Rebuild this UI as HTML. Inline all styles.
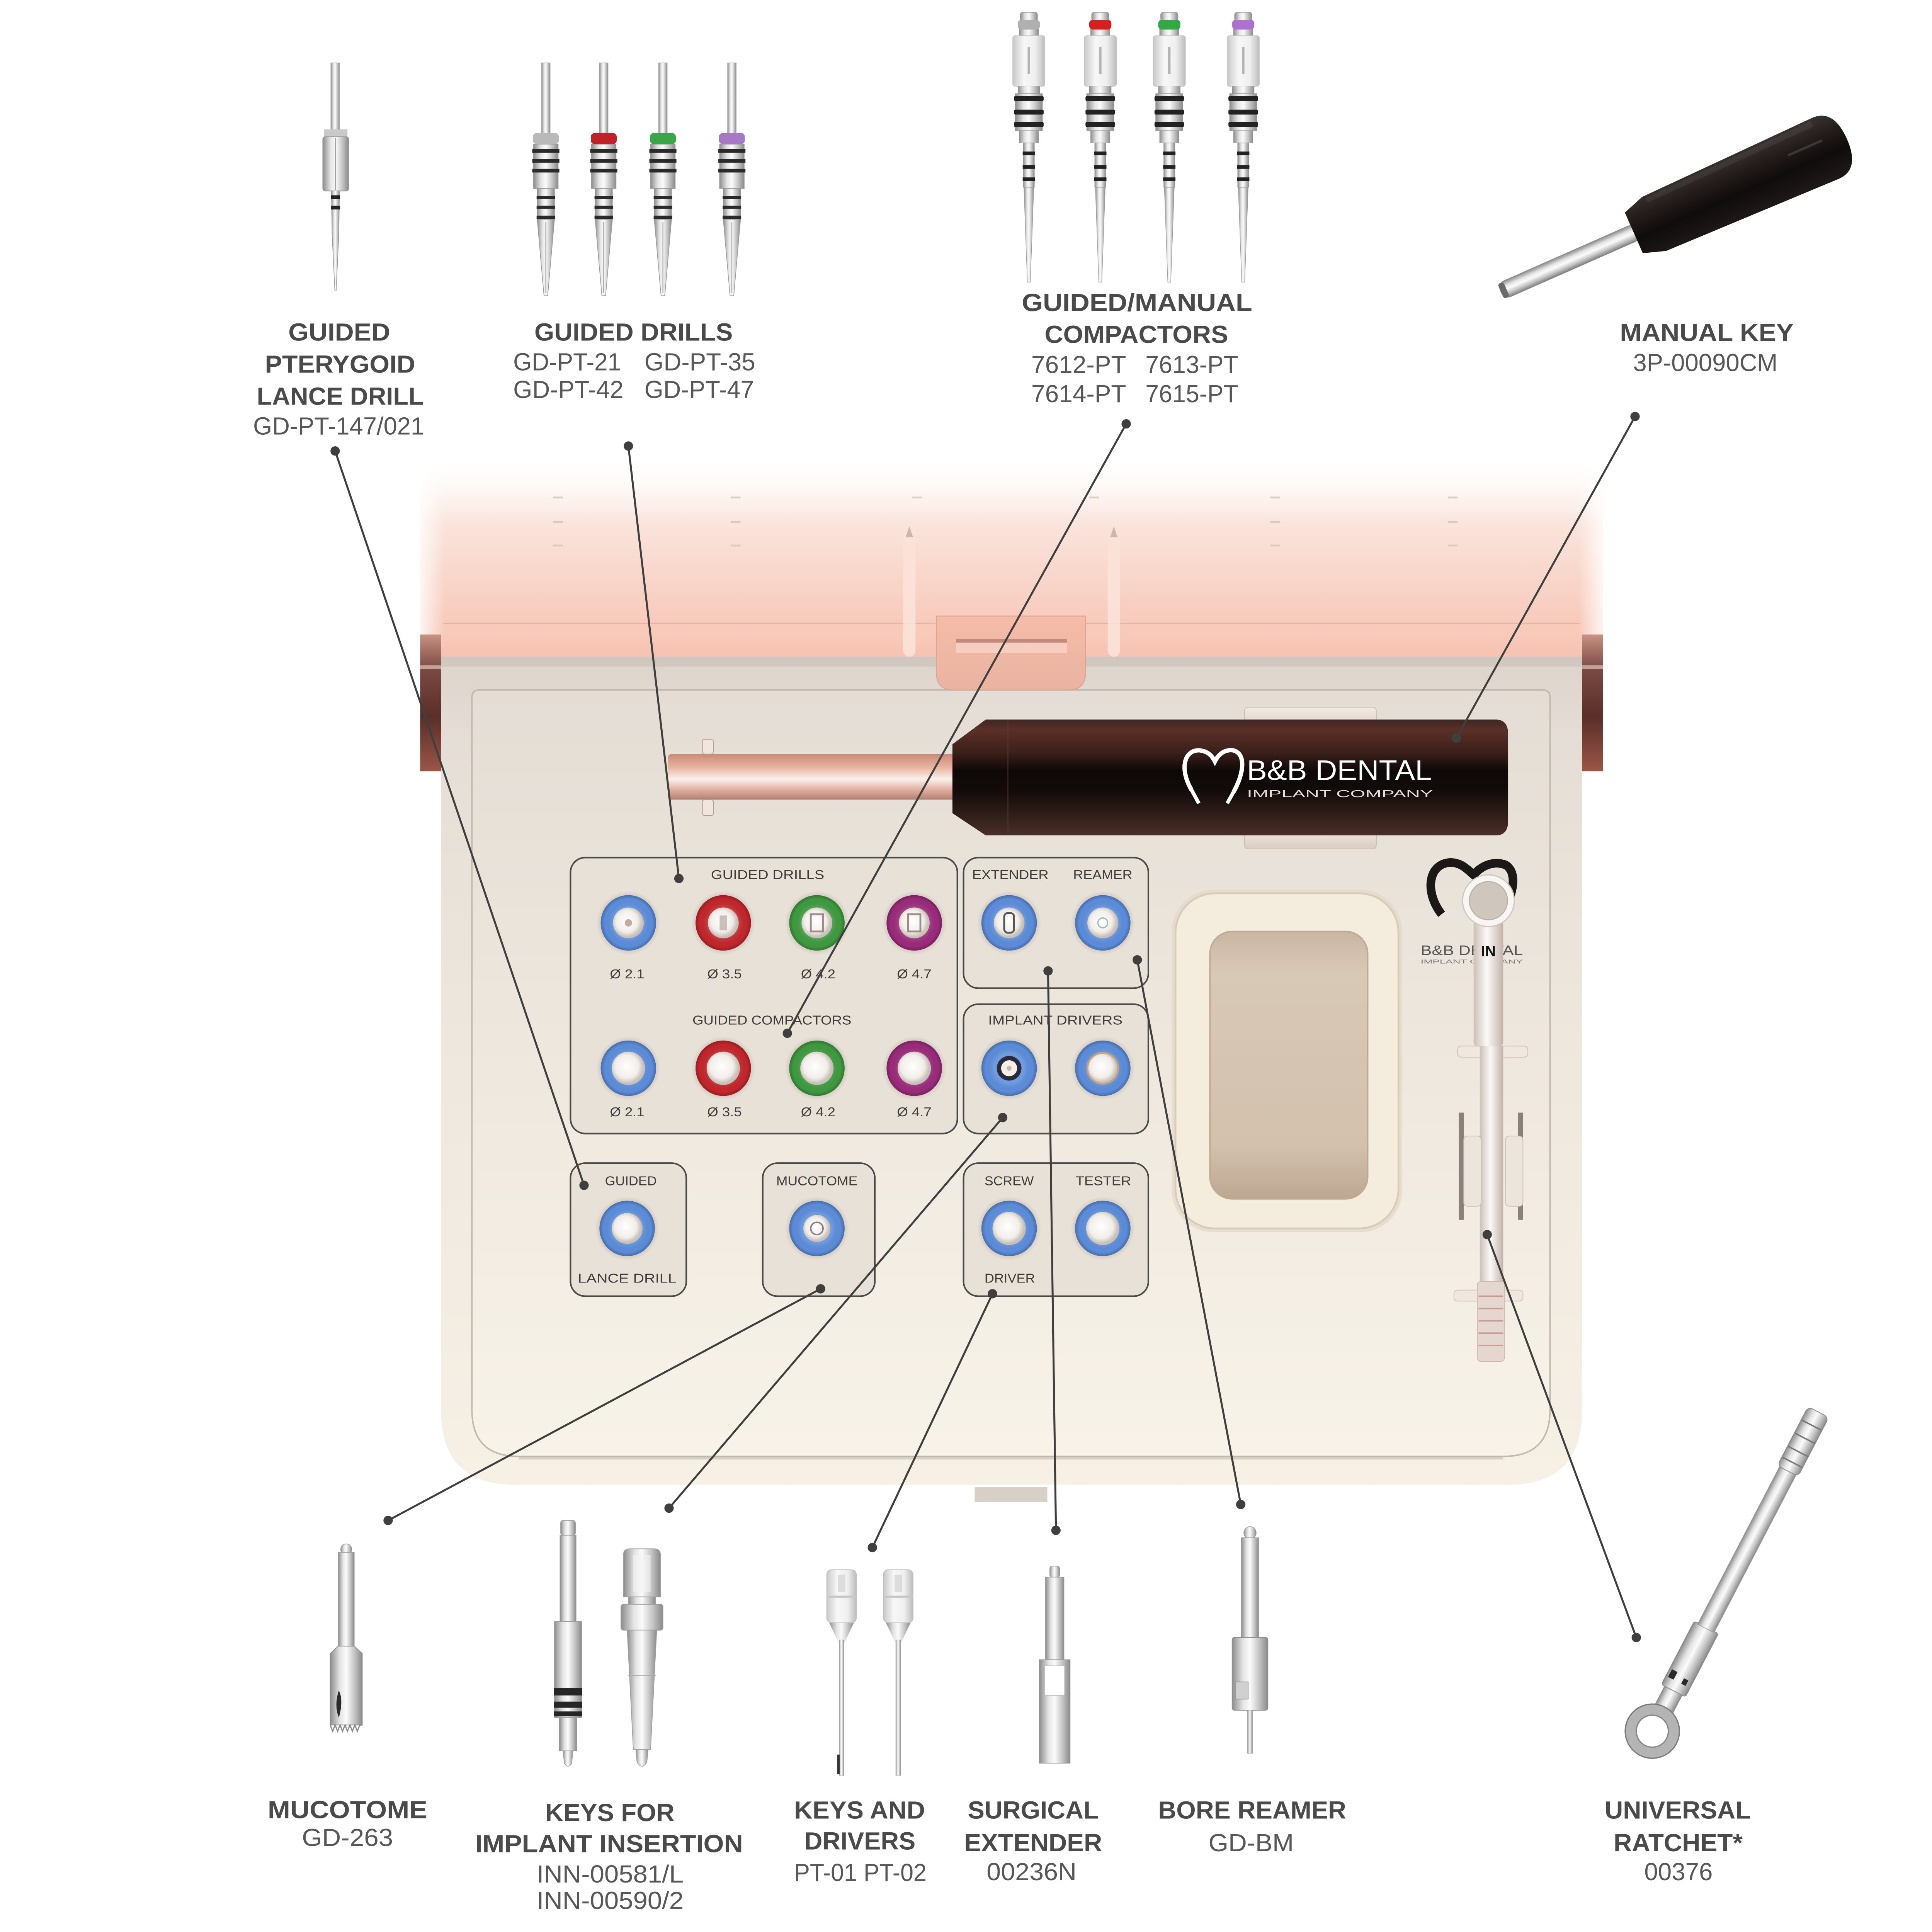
<!DOCTYPE html>
<html><head><meta charset="utf-8">
<style>
html,body{margin:0;padding:0;background:#ffffff;width:100%;height:100%;overflow:hidden;}
svg{display:block;width:100vw;height:100vh;}
text{font-family:"Liberation Sans",Arial,sans-serif;}
.b{font-weight:700;fill:#4a4a4a;font-size:20px;}
.r{font-weight:400;fill:#575757;font-size:20px;}
.s{font-weight:400;fill:#3c3c3c;font-size:10.5px;}
</style></head><body>
<svg viewBox="0 0 1568 1568" preserveAspectRatio="xMidYMid meet" xmlns="http://www.w3.org/2000/svg" xmlns:xlink="http://www.w3.org/1999/xlink">
<defs>
 <linearGradient id="sil" x1="0" y1="0" x2="1" y2="0">
  <stop offset="0" stop-color="#8c8c8c"/><stop offset="0.3" stop-color="#e4e4e4"/><stop offset="0.5" stop-color="#fbfbfb"/><stop offset="0.75" stop-color="#c6c6c6"/><stop offset="1" stop-color="#8a8a8a"/>
 </linearGradient>
 <linearGradient id="silV" x1="0" y1="0" x2="0" y2="1">
  <stop offset="0" stop-color="#8a8a8a"/><stop offset="0.3" stop-color="#e6e6e6"/><stop offset="0.5" stop-color="#fbfbfb"/><stop offset="0.75" stop-color="#c4c4c4"/><stop offset="1" stop-color="#7e7e7e"/>
 </linearGradient>
 <linearGradient id="whiteBody" x1="0" y1="0" x2="1" y2="0">
  <stop offset="0" stop-color="#c9c9c9"/><stop offset="0.35" stop-color="#f7f7f7"/><stop offset="0.7" stop-color="#efefef"/><stop offset="1" stop-color="#bdbdbd"/>
 </linearGradient>
 <linearGradient id="blackV" x1="0" y1="0" x2="0" y2="1">
  <stop offset="0" stop-color="#3a3230"/><stop offset="0.3" stop-color="#231c1b"/><stop offset="0.6" stop-color="#0f0c0c"/><stop offset="1" stop-color="#201919"/>
 </linearGradient>
 <linearGradient id="lidG" x1="0" y1="375" x2="0" y2="626" gradientUnits="userSpaceOnUse">
  <stop offset="0" stop-color="#fefaf8"/><stop offset="0.12" stop-color="#fbebe5"/><stop offset="0.3" stop-color="#f9dcd2"/><stop offset="0.55" stop-color="#f7c8b9"/><stop offset="0.75" stop-color="#f7bcaa"/><stop offset="1" stop-color="#f3ae9a"/>
 </linearGradient>
 <linearGradient id="fadeTop" x1="0" y1="0" x2="0" y2="1">
  <stop offset="0" stop-color="#ffffff" stop-opacity="1"/><stop offset="1" stop-color="#ffffff" stop-opacity="0"/>
 </linearGradient>
 <linearGradient id="fadeL" x1="0" y1="0" x2="1" y2="0">
  <stop offset="0" stop-color="#ffffff" stop-opacity="0.8"/><stop offset="1" stop-color="#ffffff" stop-opacity="0"/>
 </linearGradient>
 <linearGradient id="fadeR" x1="1" y1="0" x2="0" y2="0">
  <stop offset="0" stop-color="#ffffff" stop-opacity="0.8"/><stop offset="1" stop-color="#ffffff" stop-opacity="0"/>
 </linearGradient>
 <linearGradient id="baseG" x1="0" y1="533" x2="0" y2="1208" gradientUnits="userSpaceOnUse">
  <stop offset="0" stop-color="#ddd4cc"/><stop offset="0.1" stop-color="#e5ded6"/><stop offset="0.5" stop-color="#eee8df"/><stop offset="1" stop-color="#f6f0e5"/>
 </linearGradient>
 <linearGradient id="innerG" x1="0" y1="560" x2="0" y2="1182" gradientUnits="userSpaceOnUse">
  <stop offset="0" stop-color="#e4ddd5"/><stop offset="0.5" stop-color="#eee8df"/><stop offset="1" stop-color="#f8f3e9"/>
 </linearGradient>
 <linearGradient id="hingeG" x1="0" y1="0" x2="0" y2="1">
  <stop offset="0" stop-color="#c99284"/><stop offset="0.25" stop-color="#7a4a43"/><stop offset="0.6" stop-color="#5a2e29"/><stop offset="1" stop-color="#9a5648"/>
 </linearGradient>
 <linearGradient id="handleG" x1="0" y1="583" x2="0" y2="678" gradientUnits="userSpaceOnUse">
  <stop offset="0" stop-color="#3b2522"/><stop offset="0.1" stop-color="#5a3027"/><stop offset="0.3" stop-color="#3a1f1a"/><stop offset="0.45" stop-color="#0d0807"/><stop offset="0.62" stop-color="#120b0a"/><stop offset="0.82" stop-color="#2e1d19"/><stop offset="1" stop-color="#4a2e28"/>
 </linearGradient>
 <linearGradient id="shaftC" x1="0" y1="612" x2="0" y2="649" gradientUnits="userSpaceOnUse">
  <stop offset="0" stop-color="#c98a78"/><stop offset="0.3" stop-color="#e9b4a2"/><stop offset="0.55" stop-color="#fbf1ec"/><stop offset="0.78" stop-color="#e0b0a2"/><stop offset="1" stop-color="#b47f70"/>
 </linearGradient>
 <linearGradient id="clipG" x1="0" y1="0" x2="0" y2="1">
  <stop offset="0" stop-color="#f4ece5"/><stop offset="1" stop-color="#d9ccc1"/>
 </linearGradient>
 <linearGradient id="tabG" x1="0" y1="0" x2="0" y2="1">
  <stop offset="0" stop-color="#f5bca8"/><stop offset="1" stop-color="#e9b3a2"/>
 </linearGradient>
 <linearGradient id="trayIn" x1="0" y1="0" x2="0" y2="1">
  <stop offset="0" stop-color="#c9b6a3"/><stop offset="0.15" stop-color="#d8c8b6"/><stop offset="0.8" stop-color="#d3c1ae"/><stop offset="1" stop-color="#bca792"/>
 </linearGradient>
 <linearGradient id="ratShaft" x1="0" y1="0" x2="1" y2="0">
  <stop offset="0" stop-color="#cbbfb8"/><stop offset="0.45" stop-color="#fbf9f7"/><stop offset="1" stop-color="#c2b3ab"/>
 </linearGradient>
 <radialGradient id="halo">
  <stop offset="0.8" stop-color="#8a7a6e" stop-opacity="0.28"/><stop offset="1" stop-color="#8a7a6e" stop-opacity="0"/>
 </radialGradient>
 <radialGradient id="ringSh">
  <stop offset="0.55" stop-color="#ffffff" stop-opacity="0.12"/><stop offset="0.85" stop-color="#000000" stop-opacity="0"/><stop offset="1" stop-color="#000000" stop-opacity="0.22"/>
 </radialGradient>
 <radialGradient id="innerW" cx="0.45" cy="0.45">
  <stop offset="0" stop-color="#ffffff"/><stop offset="0.7" stop-color="#f2eeea"/><stop offset="1" stop-color="#c9c1b9"/>
 </radialGradient>

 <g id="drill">
  <rect x="-3.5" y="51" width="7" height="58" fill="url(#sil)" stroke="#a0a0a0" stroke-width="0.4"/>
  <rect x="-10" y="117" width="20" height="36" fill="url(#sil)" stroke="#999" stroke-width="0.5"/>
  <rect x="-11" y="121" width="22" height="3" fill="#2a2a2a"/>
  <rect x="-11" y="129" width="22" height="3" fill="#2a2a2a"/>
  <rect x="-11" y="137" width="22" height="3" fill="#2a2a2a"/>
  <rect x="-7" y="153" width="14" height="25" fill="url(#sil)" stroke="#999" stroke-width="0.5"/>
  <rect x="-7.5" y="159" width="15" height="2.5" fill="#2a2a2a"/>
  <rect x="-7.5" y="167" width="15" height="2.5" fill="#2a2a2a"/>
  <rect x="-7.5" y="175" width="15" height="2.5" fill="#2a2a2a"/>
  <polygon points="-7,178 7,178 1.5,240 -1.5,240" fill="url(#sil)" stroke="#999" stroke-width="0.5"/>
  <line x1="0" y1="180" x2="0" y2="238" stroke="#8a8a8a" stroke-width="0.6"/>
 </g>
 <g id="comp">
  <rect x="-7" y="10" width="14" height="7" rx="2" fill="url(#sil)" stroke="#999" stroke-width="0.5"/>
  <rect x="-8" y="23" width="16" height="7" fill="url(#sil)"/>
  <rect x="-13" y="29" width="26" height="41" rx="2" fill="url(#whiteBody)" stroke="#c4c4c4" stroke-width="0.6"/>
  <rect x="-1" y="38" width="2" height="22" fill="#b5b5b5"/>
  <rect x="-9" y="70" width="18" height="6" fill="url(#sil)"/>
  <rect x="-11" y="76" width="22" height="30" fill="url(#sil)" stroke="#999" stroke-width="0.5"/>
  <rect x="-12" y="78" width="24" height="4" rx="1" fill="#222"/>
  <rect x="-12" y="89" width="24" height="4" rx="1" fill="#222"/>
  <rect x="-12" y="99" width="24" height="4" rx="1" fill="#222"/>
  <rect x="-8" y="106" width="16" height="10" fill="url(#sil)"/>
  <rect x="-4.5" y="116" width="9" height="36" fill="url(#sil)" stroke="#999" stroke-width="0.4"/>
  <rect x="-5" y="123" width="10" height="3" fill="#222"/>
  <rect x="-5" y="134" width="10" height="3" fill="#222"/>
  <rect x="-5" y="144" width="10" height="3" fill="#222"/>
  <polygon points="-4,152 4,152 1.2,229 -1.2,229" fill="url(#sil)" stroke="#999" stroke-width="0.4"/>
 </g>
 <g id="keyd">
  <rect x="-12" y="1274" width="24" height="43" rx="4" fill="url(#whiteBody)" stroke="#bdbdbd" stroke-width="0.6"/>
  <rect x="-12" y="1295" width="24" height="2" fill="#c8c8c8"/>
  <rect x="-3" y="1278" width="6" height="14" fill="#dcdcdc"/>
  <polygon points="-10,1317 10,1317 2.5,1333 -2.5,1333" fill="url(#sil)"/>
  <rect x="-2" y="1331" width="4" height="110" fill="url(#sil)" stroke="#aaa" stroke-width="0.3"/>
 </g>
</defs>

<rect x="0" y="0" width="1568" height="1568" fill="#ffffff"/>

<!-- ===== CASE ===== -->
<path d="M341,403 Q341,375 369,375 L1273,375 Q1301,375 1301,403 L1301,626 L341,626 Z" fill="url(#lidG)"/>
<rect x="330" y="370" width="985" height="55" fill="url(#fadeTop)"/>
<rect x="341" y="375" width="20" height="150" fill="url(#fadeL)"/>
<rect x="1281" y="375" width="20" height="150" fill="url(#fadeR)"/>
<line x1="360" y1="506" x2="1282" y2="506" stroke="#e3a797" stroke-width="1" opacity="0.7"/>
<rect x="360" y="507" width="922" height="14" fill="#f9cbbb" opacity="0.5"/>
<g fill="#d9c2bb" opacity="0.8">
 <rect x="449" y="403" width="8" height="1.5"/><rect x="449" y="423" width="8" height="1.5"/><rect x="449" y="442" width="8" height="1.5"/>
 <rect x="593" y="403" width="8" height="1.5"/><rect x="593" y="423" width="8" height="1.5"/><rect x="593" y="442" width="8" height="1.5"/>
 <rect x="1031" y="403" width="8" height="1.5"/><rect x="1031" y="423" width="8" height="1.5"/><rect x="1031" y="442" width="8" height="1.5"/>
 <rect x="1175" y="403" width="8" height="1.5"/><rect x="1175" y="423" width="8" height="1.5"/><rect x="1175" y="442" width="8" height="1.5"/>
 <rect x="740" y="403" width="8" height="1.5"/><rect x="884" y="403" width="8" height="1.5"/>
</g>
<rect x="733" y="428" width="10" height="105" rx="5" fill="#fbe2d9" opacity="0.9"/>
<rect x="899" y="428" width="10" height="105" rx="5" fill="#fbe2d9" opacity="0.9"/>
<path d="M735,436 L738,427 L741,436 Z" fill="#d2b4ab"/>
<path d="M901,436 L904,427 L907,436 Z" fill="#d2b4ab"/>
<rect x="341" y="515" width="17" height="111" fill="url(#hingeG)"/>
<rect x="1284" y="515" width="17" height="111" fill="url(#hingeG)"/>
<rect x="341" y="540" width="17" height="3" fill="#e3c4bb" opacity="0.7"/>
<rect x="1284" y="540" width="17" height="3" fill="#e3c4bb" opacity="0.7"/>

<path d="M358,537 Q358,533 362,533 L1280,533 Q1284,533 1284,537 L1284,1145 Q1284,1205 1224,1205 L418,1205 Q358,1205 358,1145 Z" fill="url(#baseG)"/>
<rect x="358" y="533" width="926" height="8" fill="#cbc3bc" opacity="0.75"/>
<path d="M383,566 Q383,560 389,560 L1252,560 Q1258,560 1258,566 L1258,1144 Q1258,1182 1220,1182 L421,1182 Q383,1182 383,1144 Z" fill="url(#innerG)" stroke="#c2b9ae" stroke-width="1.2"/>
<line x1="421" y1="1183.5" x2="1220" y2="1183.5" stroke="#d8cfc3" stroke-width="2"/>
<rect x="791" y="1207" width="59" height="12" fill="#d6d0c9"/>

<path d="M760,500 L881,500 L881,546 Q881,560 867,560 L774,560 Q760,560 760,546 Z" fill="url(#tabG)" stroke="#dea493" stroke-width="0.8"/>
<rect x="776" y="518.5" width="90" height="3" fill="#bf8a7d"/>
<rect x="776" y="522" width="90" height="8" fill="#f9d3c6" opacity="0.8"/>

<rect x="542" y="612" width="235" height="37" rx="3" fill="url(#shaftC)"/>
<rect x="570" y="600" width="9" height="12" rx="2" fill="#f0e6df" stroke="#b89c90" stroke-width="0.6"/>
<rect x="570" y="649" width="9" height="13" rx="2" fill="#f0e6df" stroke="#b89c90" stroke-width="0.6"/>
<rect x="1010" y="574" width="107" height="18" rx="3" fill="url(#clipG)" stroke="#cbbcaf" stroke-width="0.6"/>
<rect x="1010" y="672" width="107" height="17" rx="3" fill="url(#clipG)" stroke="#cbbcaf" stroke-width="0.6"/>
<path d="M773,604 L800,584 L1214,584 Q1224,584 1224,596 L1224,666 Q1224,678 1214,678 L800,678 L773,660 Z" fill="url(#handleG)"/>
<line x1="818" y1="585" x2="818" y2="677" stroke="#5a3a33" stroke-width="1" opacity="0.5"/>
<path d="M967,641 C957,624 961,608 974,609 C981,610 984,614 986,618 C989,612 994,608 1001,609 C1012,612 1009,629 1001,643" fill="none" stroke="#ffffff" stroke-width="3.5"/>
<path d="M967,641 L973,652 M1001,643 L996,652" stroke="#ffffff" stroke-width="3"/>
<text x="1012" y="633" font-size="23" fill="#ffffff" textLength="150" lengthAdjust="spacingAndGlyphs">B&amp;B DENTAL</text>
<text x="1012" y="647" font-size="8" fill="#e8dfdb" textLength="151" lengthAdjust="spacingAndGlyphs">IMPLANT COMPANY</text>

<rect x="951" y="722" width="187" height="278" rx="34" fill="#e4d8c8" opacity="0.7"/>
<rect x="954" y="725" width="181" height="272" rx="32" fill="#f4ecdc" stroke="#d9cbb9" stroke-width="1.5"/>
<rect x="982" y="756" width="128" height="217" rx="18" fill="url(#trayIn)" stroke="#bfa993" stroke-width="1.2"/>

<path d="M1170,742 C1156,724 1159,701 1177,700 C1187,700 1192,707 1196,710 C1202,703 1212,698 1222,702 C1233,709 1227,729 1218,744" fill="none" stroke="#1b1817" stroke-width="7"/>
<text x="1153" y="775" font-size="11" fill="#555" textLength="83" lengthAdjust="spacingAndGlyphs">B&amp;B DENTAL</text>
<text x="1153" y="782" font-size="4.5" fill="#777" textLength="83" lengthAdjust="spacingAndGlyphs">IMPLANT COMPANY</text>
<rect x="1184" y="903" width="4" height="87" fill="#4a3b36" opacity="0.6"/>
<rect x="1232" y="903" width="4" height="87" fill="#4a3b36" opacity="0.6"/>
<rect x="1183" y="849" width="57" height="9" rx="3" fill="#efe7e0" stroke="#cbbfb5" stroke-width="0.6"/>
<rect x="1180" y="1047" width="56" height="9" rx="3" fill="#efe7e0" stroke="#cbbfb5" stroke-width="0.6"/>
<rect x="1201" y="849" width="19" height="195" fill="url(#ratShaft)"/>
<rect x="1188" y="922" width="14" height="57" rx="3" fill="#ece5dd" stroke="#c9bdb1" stroke-width="0.6"/>
<rect x="1222" y="922" width="14" height="57" rx="3" fill="#ece5dd" stroke="#c9bdb1" stroke-width="0.6"/>
<rect x="1199" y="1040" width="22" height="65" rx="3" fill="#e5d6cf" stroke="#cdb9b0" stroke-width="0.6"/>
<g stroke="#c49c93" stroke-width="1.2">
 <line x1="1200" y1="1052" x2="1220" y2="1052"/><line x1="1200" y1="1062" x2="1220" y2="1062"/><line x1="1200" y1="1072" x2="1220" y2="1072"/><line x1="1200" y1="1082" x2="1220" y2="1082"/><line x1="1200" y1="1092" x2="1220" y2="1092"/>
</g>
<rect x="1196" y="742" width="24" height="107" rx="3" fill="url(#ratShaft)"/>
<circle cx="1208" cy="731" r="21" fill="#f8f5f2" stroke="#cfc8c1" stroke-width="1"/>
<circle cx="1208" cy="731" r="15.5" fill="#cfc6be" stroke="#b9afa6" stroke-width="0.8"/>
<text x="1208" y="776" font-size="12" font-weight="700" fill="#111" text-anchor="middle">IN</text>

<g fill="#e8e1d8" stroke="#4a4a4a" stroke-width="1.3">
 <rect x="463" y="696" width="314" height="224" rx="12"/>
 <rect x="782" y="696" width="150" height="106" rx="12"/>
 <rect x="782" y="815" width="150" height="105" rx="12"/>
 <rect x="463" y="944" width="94" height="108" rx="12"/>
 <rect x="619" y="944" width="91" height="108" rx="12"/>
 <rect x="782" y="944" width="150" height="108" rx="12"/>
</g>

<g transform="translate(510,749)"><circle r="26" fill="url(#halo)"/><circle r="22.5" fill="#5c8ddb"/><circle r="22.5" fill="url(#ringSh)"/><circle r="12.5" fill="url(#innerW)"/><circle r="3" fill="#c9a8a0"/></g>
<g transform="translate(587,749)"><circle r="26" fill="url(#halo)"/><circle r="22.5" fill="#c3262c"/><circle r="22.5" fill="url(#ringSh)"/><circle r="12.5" fill="url(#innerW)"/><rect x="-3" y="-6" width="6" height="12" fill="#b9a7a0" opacity="0.7"/></g>
<g transform="translate(663,749)"><circle r="26" fill="url(#halo)"/><circle r="22.5" fill="#3f9a40"/><circle r="22.5" fill="url(#ringSh)"/><circle r="12.5" fill="url(#innerW)"/><rect x="-5" y="-7" width="10" height="14" fill="none" stroke="#9b8b86" stroke-width="1.5"/></g>
<g transform="translate(742,749)"><circle r="26" fill="url(#halo)"/><circle r="22.5" fill="#9b2b7b"/><circle r="22.5" fill="url(#ringSh)"/><circle r="12.5" fill="url(#innerW)"/><rect x="-5" y="-7" width="10" height="14" fill="none" stroke="#9b8b86" stroke-width="1.5"/></g>
<g transform="translate(819,749)"><circle r="26" fill="url(#halo)"/><circle r="22.5" fill="#5c8ddb"/><circle r="22.5" fill="url(#ringSh)"/><circle r="12.5" fill="url(#innerW)"/><rect x="-4" y="-8" width="8" height="16" rx="3" fill="none" stroke="#555" stroke-width="1.5"/></g>
<g transform="translate(895,749)"><circle r="26" fill="url(#halo)"/><circle r="22.5" fill="#5c8ddb"/><circle r="22.5" fill="url(#ringSh)"/><circle r="12.5" fill="url(#innerW)"/><circle r="4" fill="none" stroke="#9bb" stroke-width="1"/></g>

<g transform="translate(510,867)"><circle r="26" fill="url(#halo)"/><circle r="22.5" fill="#5c8ddb"/><circle r="22.5" fill="url(#ringSh)"/><circle r="13.5" fill="url(#innerW)"/></g>
<g transform="translate(587,867)"><circle r="26" fill="url(#halo)"/><circle r="22.5" fill="#c3262c"/><circle r="22.5" fill="url(#ringSh)"/><circle r="13.5" fill="url(#innerW)"/></g>
<g transform="translate(663,867)"><circle r="26" fill="url(#halo)"/><circle r="22.5" fill="#3f9a40"/><circle r="22.5" fill="url(#ringSh)"/><circle r="13.5" fill="url(#innerW)"/></g>
<g transform="translate(742,867)"><circle r="26" fill="url(#halo)"/><circle r="22.5" fill="#9b2b7b"/><circle r="22.5" fill="url(#ringSh)"/><circle r="13.5" fill="url(#innerW)"/></g>
<g transform="translate(819,867)"><circle r="26" fill="url(#halo)"/><circle r="22.5" fill="#5c8ddb"/><circle r="22.5" fill="url(#ringSh)"/><circle r="10" fill="#2a2a3a"/><circle r="6.5" fill="#f2efec"/><circle r="2" fill="#c9b9a8"/></g>
<g transform="translate(895,867)"><circle r="26" fill="url(#halo)"/><circle r="22.5" fill="#5c8ddb"/><circle r="22.5" fill="url(#ringSh)"/><circle r="12.5" fill="url(#innerW)"/><circle r="12.5" fill="none" stroke="#c9a27c" stroke-width="1.5"/></g>

<g transform="translate(509,997)"><circle r="26" fill="url(#halo)"/><circle r="22.5" fill="#5c8ddb"/><circle r="22.5" fill="url(#ringSh)"/><circle r="12.5" fill="url(#innerW)"/></g>
<g transform="translate(663,997)"><circle r="26" fill="url(#halo)"/><circle r="22.5" fill="#5c8ddb"/><circle r="22.5" fill="url(#ringSh)"/><circle r="11" fill="url(#innerW)"/><circle r="5" fill="none" stroke="#8b7c86" stroke-width="1.2"/></g>
<g transform="translate(819,997)"><circle r="26" fill="url(#halo)"/><circle r="22.5" fill="#5c8ddb"/><circle r="22.5" fill="url(#ringSh)"/><circle r="13.5" fill="url(#innerW)"/></g>
<g transform="translate(895,997)"><circle r="26" fill="url(#halo)"/><circle r="22.5" fill="#5c8ddb"/><circle r="22.5" fill="url(#ringSh)"/><circle r="13.5" fill="url(#innerW)"/></g>

<text class="s" x="577" y="713.5" textLength="92" lengthAdjust="spacingAndGlyphs">GUIDED  DRILLS</text>
<text class="s" x="789" y="713.5" textLength="62" lengthAdjust="spacingAndGlyphs">EXTENDER</text>
<text class="s" x="871" y="713.5" textLength="48" lengthAdjust="spacingAndGlyphs">REAMER</text>
<text class="s" x="562" y="831.5" textLength="129" lengthAdjust="spacingAndGlyphs">GUIDED  COMPACTORS</text>
<text class="s" x="802" y="831.5" textLength="109" lengthAdjust="spacingAndGlyphs">IMPLANT  DRIVERS</text>
<text class="s" x="491" y="962" textLength="42" lengthAdjust="spacingAndGlyphs">GUIDED</text>
<text class="s" x="469" y="1041" textLength="80" lengthAdjust="spacingAndGlyphs">LANCE  DRILL</text>
<text class="s" x="630" y="962" textLength="66" lengthAdjust="spacingAndGlyphs">MUCOTOME</text>
<text class="s" x="799" y="962" textLength="40" lengthAdjust="spacingAndGlyphs">SCREW</text>
<text class="s" x="873" y="962" textLength="45" lengthAdjust="spacingAndGlyphs">TESTER</text>
<text class="s" x="799" y="1041" textLength="41" lengthAdjust="spacingAndGlyphs">DRIVER</text>
<text class="s" x="495" y="794" textLength="28" lengthAdjust="spacingAndGlyphs">Ø 2.1</text>
<text class="s" x="574" y="794" textLength="28" lengthAdjust="spacingAndGlyphs">Ø 3.5</text>
<text class="s" x="650" y="794" textLength="28" lengthAdjust="spacingAndGlyphs">Ø 4.2</text>
<text class="s" x="728" y="794" textLength="28" lengthAdjust="spacingAndGlyphs">Ø 4.7</text>
<text class="s" x="495" y="906" textLength="28" lengthAdjust="spacingAndGlyphs">Ø 2.1</text>
<text class="s" x="574" y="906" textLength="28" lengthAdjust="spacingAndGlyphs">Ø 3.5</text>
<text class="s" x="650" y="906" textLength="28" lengthAdjust="spacingAndGlyphs">Ø 4.2</text>
<text class="s" x="728" y="906" textLength="28" lengthAdjust="spacingAndGlyphs">Ø 4.7</text>

<!-- ===== TOP TOOLS ===== -->
<rect x="268.5" y="51" width="7" height="58" fill="url(#sil)" stroke="#a0a0a0" stroke-width="0.4"/>
<rect x="263" y="105" width="19" height="7" fill="#c9c9c9"/>
<rect x="262" y="111" width="21" height="44" rx="2" fill="url(#sil)" stroke="#9a9a9a" stroke-width="0.6"/>
<line x1="272.3" y1="112" x2="272.3" y2="154" stroke="#9a9a9a" stroke-width="0.6"/>
<polygon points="269,155 275.5,155 275,190 272.8,236 271.8,236 269.5,190" fill="url(#sil)" stroke="#999" stroke-width="0.5"/>
<rect x="268.5" y="158.5" width="7.5" height="3" fill="#222"/>
<rect x="268.5" y="167" width="7.5" height="3" fill="#222"/>

<use xlink:href="#drill" href="#drill" transform="translate(443,0)"/>
<use xlink:href="#drill" href="#drill" transform="translate(490,0)"/>
<use xlink:href="#drill" href="#drill" transform="translate(538,0)"/>
<use xlink:href="#drill" href="#drill" transform="translate(594,0)"/>
<rect x="432.5" y="108" width="21" height="9" rx="3" fill="#b9b9b9"/>
<rect x="479.5" y="108" width="21" height="9" rx="3" fill="#c0222a"/>
<rect x="527.5" y="108" width="21" height="9" rx="3" fill="#3aa648"/>
<rect x="583.5" y="108" width="21" height="9" rx="3" fill="#a878c8"/>

<use xlink:href="#comp" href="#comp" transform="translate(835,0)"/>
<use xlink:href="#comp" href="#comp" transform="translate(893,0)"/>
<use xlink:href="#comp" href="#comp" transform="translate(949,0)"/>
<use xlink:href="#comp" href="#comp" transform="translate(1009,0)"/>
<rect x="826" y="16" width="18" height="8" rx="3" fill="#b0b0b0"/>
<rect x="884" y="16" width="18" height="8" rx="3" fill="#d81e1e"/>
<rect x="940" y="16" width="18" height="8" rx="3" fill="#34a844"/>
<rect x="1000" y="16" width="18" height="8" rx="3" fill="#b070d0"/>

<g transform="translate(1326,189) rotate(-23.8)">
 <rect x="-118" y="-7" width="122" height="14" rx="6" fill="url(#silV)" stroke="#8a8a8a" stroke-width="0.5"/>
 <rect x="-118" y="-6.5" width="5" height="13" rx="2" fill="#6a6a6a"/>
 <path d="M0,-18 L18,-24 L170,-27 Q189,-27 189,0 Q189,27 170,27 L18,24 L0,18 Z" fill="url(#blackV)"/>
 <path d="M20,-22 L168,-25 L168,-20 L20,-18 Z" fill="#ffffff" opacity="0.06"/>
 <rect x="140" y="-8" width="30" height="2" fill="#555" opacity="0.5"/>
</g>

<!-- ===== BOTTOM TOOLS ===== -->
<circle cx="281" cy="1257.5" r="4.5" fill="url(#sil)" stroke="#999" stroke-width="0.5"/>
<rect x="274.5" y="1260" width="13" height="76" fill="url(#sil)" stroke="#9c9c9c" stroke-width="0.5"/>
<path d="M274.5,1336 L268,1342 L268,1400 L294,1400 L294,1342 L287.5,1336 Z" fill="url(#sil)" stroke="#8c8c8c" stroke-width="0.6"/>
<path d="M275,1372 Q279,1380 275,1394 Q271,1384 275,1372 Z" fill="#2a2a2a"/>
<path d="M268,1400 L270,1405 L272,1400 L274,1405 L276,1400 L278,1405 L280,1400 L282,1405 L284,1400 L286,1405 L288,1400 L290,1405 L292,1400 L294,1400" fill="none" stroke="#8a8a8a" stroke-width="1"/>

<rect x="455" y="1234" width="12" height="12" rx="2" fill="url(#sil)" stroke="#999" stroke-width="0.5"/>
<rect x="454.5" y="1246" width="13" height="70" fill="url(#sil)" stroke="#9c9c9c" stroke-width="0.5"/>
<rect x="450" y="1316" width="22" height="78" fill="url(#sil)" stroke="#999" stroke-width="0.5"/>
<rect x="449.5" y="1370" width="23" height="6" fill="#262626"/>
<rect x="449.5" y="1381" width="23" height="5" fill="#262626"/>
<rect x="449.5" y="1389" width="23" height="4" fill="#262626"/>
<rect x="454" y="1394" width="14" height="27" fill="url(#sil)" stroke="#999" stroke-width="0.5"/>
<path d="M457,1421 L465,1421 L464,1431 Q461,1436 458,1431 Z" fill="url(#sil)" stroke="#999" stroke-width="0.5"/>

<path d="M506,1296 L506,1262 Q506,1257 511,1257 L531,1257 Q536,1257 536,1262 L536,1296 Z" fill="url(#sil)" stroke="#a0a0a0" stroke-width="0.6"/>
<rect x="514" y="1262" width="14" height="30" fill="#f4f4f4" opacity="0.6"/>
<rect x="510" y="1296" width="22" height="6" fill="url(#sil)" stroke="#a0a0a0" stroke-width="0.5"/>
<rect x="504" y="1302" width="34" height="21" rx="2" fill="url(#sil)" stroke="#999" stroke-width="0.6"/>
<polygon points="509,1323 533,1323 528,1420 514,1420" fill="url(#sil)" stroke="#9c9c9c" stroke-width="0.5"/>
<line x1="509.5" y1="1360" x2="532.5" y2="1360" stroke="#aaa" stroke-width="0.8"/>
<path d="M516,1420 L526,1420 L525,1430 Q521,1437 517,1430 Z" fill="url(#sil)" stroke="#999" stroke-width="0.5"/>

<use xlink:href="#keyd" href="#keyd" transform="translate(683,0)"/>
<use xlink:href="#keyd" href="#keyd" transform="translate(729,0)"/>
<rect x="679.5" y="1424" width="2" height="16" fill="#333"/>

<rect x="852" y="1271" width="8" height="9" rx="2" fill="url(#sil)" stroke="#999" stroke-width="0.5"/>
<rect x="848.5" y="1280" width="15" height="67" fill="url(#sil)" stroke="#9c9c9c" stroke-width="0.5"/>
<rect x="843.5" y="1347" width="25" height="84" fill="url(#sil)" stroke="#999" stroke-width="0.5"/>
<rect x="848" y="1352" width="16" height="24" fill="#ffffff" stroke="#bbb" stroke-width="0.5"/>

<circle cx="1014.5" cy="1244" r="5" fill="url(#sil)" stroke="#999" stroke-width="0.5"/>
<rect x="1007.5" y="1248" width="14" height="82" fill="url(#sil)" stroke="#9c9c9c" stroke-width="0.5"/>
<rect x="1000" y="1329" width="29" height="59" rx="2" fill="url(#sil)" stroke="#8c8c8c" stroke-width="0.6"/>
<rect x="1003" y="1365" width="10" height="14" fill="#d0d0d0" stroke="#888" stroke-width="0.5"/>
<rect x="1012.5" y="1388" width="4" height="35" fill="url(#sil)" stroke="#999" stroke-width="0.3"/>

<g transform="translate(1341,1405) rotate(27.5)">
 <rect x="-8" y="-40" width="16" height="26" fill="url(#sil)" stroke="#888" stroke-width="0.5"/>
 <circle r="17.5" fill="none" stroke="#b4b4b4" stroke-width="9"/>
 <circle r="22" fill="none" stroke="#7a7a7a" stroke-width="1"/>
 <circle r="13" fill="none" stroke="#858585" stroke-width="1"/>
 <rect x="-11" y="-95" width="22" height="58" rx="2" fill="url(#sil)" stroke="#888" stroke-width="0.6"/>
 <rect x="-9" y="-52" width="5" height="7" fill="#2a2a2a"/>
 <rect x="3" y="-50" width="4" height="5" fill="#2a2a2a"/>
 <rect x="-7.5" y="-240" width="15" height="146" fill="url(#sil)" stroke="#999" stroke-width="0.5"/>
 <rect x="-9.5" y="-292" width="19" height="54" rx="4" fill="url(#sil)" stroke="#888" stroke-width="0.6"/>
 <g stroke="#7a7a7a" stroke-width="1.2">
  <line x1="-9" y1="-280" x2="9" y2="-280"/><line x1="-9" y1="-268" x2="9" y2="-268"/><line x1="-9" y1="-256" x2="9" y2="-256"/><line x1="-9" y1="-246" x2="9" y2="-246"/>
 </g>
</g>

<!-- ===== LABELS ===== -->
<text class="b" x="234" y="276.5" textLength="82.7" lengthAdjust="spacingAndGlyphs">GUIDED</text>
<text class="b" x="215" y="302.5" textLength="122" lengthAdjust="spacingAndGlyphs">PTERYGOID</text>
<text class="b" x="208.4" y="328.5" textLength="135.5" lengthAdjust="spacingAndGlyphs">LANCE DRILL</text>
<text class="r" x="205.4" y="352.7" textLength="139" lengthAdjust="spacingAndGlyphs">GD-PT-147/021</text>

<text class="b" x="433.7" y="276.5" textLength="161" lengthAdjust="spacingAndGlyphs">GUIDED DRILLS</text>
<text class="r" x="416.5" y="300.6" textLength="87.5" lengthAdjust="spacingAndGlyphs">GD-PT-21</text>
<text class="r" x="523" y="300.6" textLength="90" lengthAdjust="spacingAndGlyphs">GD-PT-35</text>
<text class="r" x="416.5" y="323" textLength="89.5" lengthAdjust="spacingAndGlyphs">GD-PT-42</text>
<text class="r" x="523" y="323" textLength="89" lengthAdjust="spacingAndGlyphs">GD-PT-47</text>

<text class="b" x="829.3" y="252.4" textLength="187" lengthAdjust="spacingAndGlyphs">GUIDED/MANUAL</text>
<text class="b" x="847.8" y="278.3" textLength="149" lengthAdjust="spacingAndGlyphs">COMPACTORS</text>
<text class="r" x="837" y="302.8" textLength="77" lengthAdjust="spacingAndGlyphs">7612-PT</text>
<text class="r" x="929.6" y="302.8" textLength="75.4" lengthAdjust="spacingAndGlyphs">7613-PT</text>
<text class="r" x="837" y="326.4" textLength="77" lengthAdjust="spacingAndGlyphs">7614-PT</text>
<text class="r" x="929.6" y="326.4" textLength="75.4" lengthAdjust="spacingAndGlyphs">7615-PT</text>

<text class="b" x="1314.7" y="276.8" textLength="141" lengthAdjust="spacingAndGlyphs">MANUAL KEY</text>
<text class="r" x="1325.4" y="301.2" textLength="117.3" lengthAdjust="spacingAndGlyphs">3P-00090CM</text>

<text class="b" x="217.3" y="1475.6" textLength="129.5" lengthAdjust="spacingAndGlyphs">MUCOTOME</text>
<text class="r" x="245" y="1498.3" textLength="74" lengthAdjust="spacingAndGlyphs">GD-263</text>

<text class="b" x="442.4" y="1478" textLength="105" lengthAdjust="spacingAndGlyphs">KEYS FOR</text>
<text class="b" x="385.6" y="1503.2" textLength="217.4" lengthAdjust="spacingAndGlyphs">IMPLANT INSERTION</text>
<text class="r" x="435.5" y="1527.8" textLength="119.3" lengthAdjust="spacingAndGlyphs">INN-00581/L</text>
<text class="r" x="435.5" y="1549.3" textLength="119.3" lengthAdjust="spacingAndGlyphs">INN-00590/2</text>

<text class="b" x="644.5" y="1476" textLength="106.3" lengthAdjust="spacingAndGlyphs">KEYS AND</text>
<text class="b" x="652.8" y="1501" textLength="90.2" lengthAdjust="spacingAndGlyphs">DRIVERS</text>
<text class="r" x="644.5" y="1526.6" textLength="107.5" lengthAdjust="spacingAndGlyphs">PT-01 PT-02</text>

<text class="b" x="785.4" y="1476" textLength="106.4" lengthAdjust="spacingAndGlyphs">SURGICAL</text>
<text class="b" x="782.5" y="1502.4" textLength="112" lengthAdjust="spacingAndGlyphs">EXTENDER</text>
<text class="r" x="800.7" y="1526" textLength="73" lengthAdjust="spacingAndGlyphs">00236N</text>

<text class="b" x="940" y="1476" textLength="152.6" lengthAdjust="spacingAndGlyphs">BORE REAMER</text>
<text class="r" x="980.8" y="1502.4" textLength="69.2" lengthAdjust="spacingAndGlyphs">GD-BM</text>

<text class="b" x="1302.4" y="1476" textLength="118.6" lengthAdjust="spacingAndGlyphs">UNIVERSAL</text>
<text class="b" x="1309.6" y="1502.4" textLength="104.7" lengthAdjust="spacingAndGlyphs">RATCHET*</text>
<text class="r" x="1334.5" y="1526" textLength="55.5" lengthAdjust="spacingAndGlyphs">00376</text>

<!-- ===== CONNECTORS ===== -->
<g stroke="#3f3f3f" stroke-width="1.6" fill="none">
 <line x1="272" y1="366" x2="474" y2="962"/>
 <line x1="510" y1="362" x2="551" y2="713"/>
 <line x1="914" y1="344" x2="639" y2="838.6"/>
 <line x1="1327" y1="338" x2="1182" y2="599"/>
 <line x1="315" y1="1234" x2="666" y2="1046"/>
 <line x1="543" y1="1224" x2="813.8" y2="907"/>
 <line x1="708" y1="1256" x2="805.5" y2="1050"/>
 <line x1="857" y1="1242" x2="850.6" y2="788"/>
 <line x1="1007" y1="1221" x2="923" y2="779"/>
 <line x1="1328" y1="1329" x2="1207" y2="1002"/>
</g>
<g fill="#3f3f3f">
 <circle cx="272" cy="366" r="3.8"/><circle cx="474" cy="962" r="3.8"/>
 <circle cx="510" cy="362" r="3.8"/><circle cx="551" cy="713" r="3.8"/>
 <circle cx="914" cy="344" r="3.8"/><circle cx="639" cy="838.6" r="3.8"/>
 <circle cx="1327" cy="338" r="3.8"/><circle cx="1182" cy="599" r="3.8"/>
 <circle cx="315" cy="1234" r="3.8"/><circle cx="666" cy="1046" r="3.8"/>
 <circle cx="543" cy="1224" r="3.8"/><circle cx="813.8" cy="907" r="3.8"/>
 <circle cx="708" cy="1256" r="3.8"/><circle cx="805.5" cy="1050" r="3.8"/>
 <circle cx="857" cy="1242" r="3.8"/><circle cx="850.6" cy="788" r="3.8"/>
 <circle cx="1007" cy="1221" r="3.8"/><circle cx="923" cy="779" r="3.8"/>
 <circle cx="1328" cy="1329" r="3.8"/><circle cx="1207" cy="1002" r="3.8"/>
</g>
</svg>
</body></html>
